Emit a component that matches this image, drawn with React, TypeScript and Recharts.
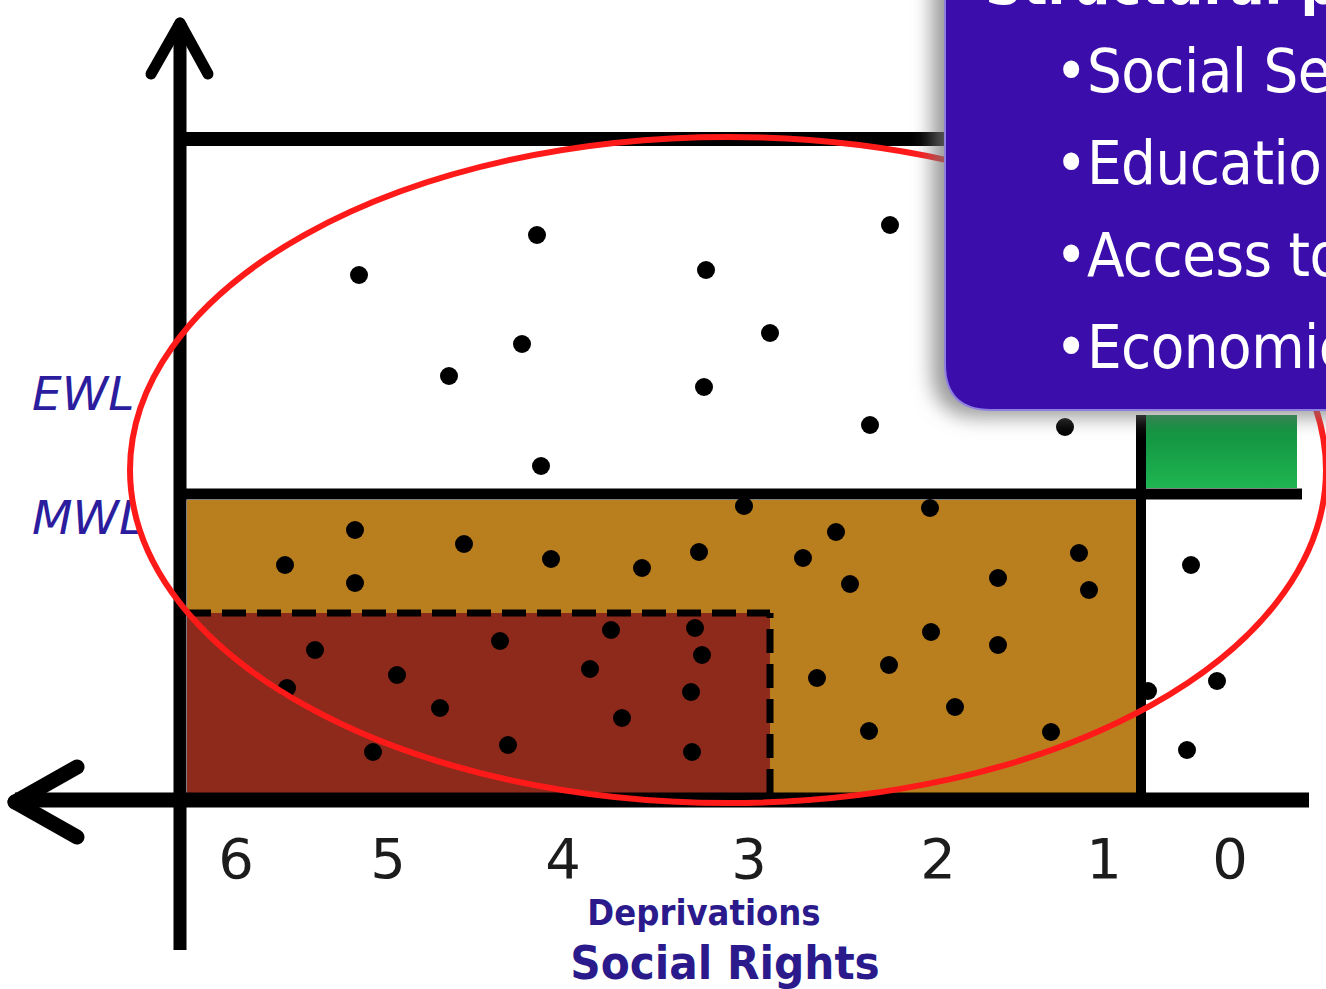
import { ReferenceArea, ReferenceLine, Scatter, ScatterChart, XAxis, YAxis } from "recharts";

// plot units: x = px from the vertical axis, y = px above the horizontal axis
const TICK_POS = [56, 208, 383, 569, 758, 924, 1050];
const TICK_LABELS = ["6", "5", "4", "3", "2", "1", "0"];
const LEVEL_POS = [407, 283];
const LEVEL_LABELS = ["EWL", "MWL"];
const MWL = 306;
const TOP = 661;
const DEPRIV_CUT = 961;
const SEVERE = { x: 590, y: 187 };
const BOX_LINES = ["•Social Security", "•Education", "•Access to health", "•Economic"];

const upperDots = [
  [179, 525], [357, 565], [526, 530], [710, 575], [342, 456], [590, 467],
  [269, 424], [524, 413], [690, 375], [361, 334], [885, 373],
];
const middleDots = [
  [175, 270], [105, 235], [175, 217], [284, 256], [371, 241], [462, 232],
  [519, 248], [564, 294], [623, 242], [656, 268], [670, 216], [750, 292],
  [818, 222], [899, 247], [909, 210], [637, 122], [709, 135], [751, 168],
  [818, 155], [775, 93], [689, 69], [871, 68], [968, 109],
];
const severeDots = [
  [135, 150], [217, 125], [320, 159], [431, 170], [515, 172], [522, 145],
  [410, 131], [511, 108], [260, 92], [442, 82], [328, 55], [512, 48],
  [107, 112], [193, 48],
];
const rightDots = [[1011, 235], [1037, 119], [1007, 50]];

const toPts = (a: number[][]) => a.map(([x, y]) => ({ x, y }));
const allDots = toPts([...upperDots, ...middleDots, ...severeDots, ...rightDots]);

const navy = "#2a1a8c";

function XTick({ x, payload }: any) {
  const i = TICK_POS.indexOf(payload.value);
  return (
    <text x={x} y={800 + 78} textAnchor="middle" fontSize={56} fill="#1c1c1c" fontFamily="'DejaVu Sans', sans-serif">
      {TICK_LABELS[i]}
    </text>
  );
}

function LevelLabel({ viewBox, text }: any) {
  return (
    <text x={32} y={viewBox.y + 17} fontSize={47} fontStyle="italic" fill="#2b1d9e" fontFamily="'DejaVu Sans', sans-serif">
      {text}
    </text>
  );
}

function AxisTitle() {
  return (
    <g fontFamily="'DejaVu Sans Condensed', 'DejaVu Sans', sans-serif" fontWeight="bold" fill={navy} textAnchor="middle">
      <text x={704} y={925} fontSize={36} style={{ fontStretch: "condensed" }}>Deprivations</text>
      <text x={725} y={979} fontSize={47} style={{ fontStretch: "condensed" }}>Social Rights</text>
    </g>
  );
}

function Ellipse(p: any) {
  return (
    <ellipse cx={p.x + p.width / 2} cy={p.y + p.height / 2} rx={p.width / 2} ry={p.height / 2}
      fill="none" stroke="#ff1a1a" strokeWidth={6} />
  );
}

function InfoBox(p: any) {
  const x = p.x, yb = p.y + p.height, r = 46;
  const d = `M ${x} -40 L ${x} ${yb - r} Q ${x} ${yb} ${x + r} ${yb} L ${x + p.width + 80} ${yb} L ${x + p.width + 80} -40 Z`;
  return (
    <g>
      <path d={d} fill="#3a0caa" stroke="#8f80e0" strokeWidth={2} filter="url(#boxShadow)" />
      <g fill="#ffffff" fontFamily="'DejaVu Sans Condensed', 'DejaVu Sans', sans-serif" style={{ fontStretch: "condensed" }}>
        <text x={x + 40} y={4} fontSize={58} fontWeight="bold">Structural problems</text>
        {BOX_LINES.map((t, i) => (
          <text key={t} x={x + 110} y={92 + i * 92} fontSize={61} letterSpacing={-0.5}>{t}</text>
        ))}
      </g>
    </g>
  );
}

export default function App() {
  return (
    <div style={{ width: 1326, height: 989, background: "#fff" }}>
      <style>{"body{margin:0}"}</style>
      <ScatterChart width={1326} height={989} margin={{ top: 0, right: 0, bottom: 0, left: 0 }}>
        <defs>
          <filter id="boxShadow" x="-20%" y="-20%" width="140%" height="140%">
            <feDropShadow dx={-12} dy={6} stdDeviation={10} floodColor="#777" floodOpacity={0.75} />
          </filter>
          <linearGradient id="greenGrad" x1="0" y1="0" x2="0" y2="1">
            <stop offset="0%" stopColor="#0f8a3c" />
            <stop offset="100%" stopColor="#1fb552" />
          </linearGradient>
        </defs>
        <XAxis type="number" dataKey="x" domain={[-180, 1146]} ticks={TICK_POS} interval={0} height={189}
          axisLine={false} tickLine={false} tickSize={0} tick={<XTick />} label={<AxisTitle />} allowDataOverflow />
        <YAxis type="number" dataKey="y" domain={[0, 800]} hide allowDataOverflow />

        <ReferenceArea x1={7} x2={956} y1={7} y2={300} fill="#b97f1f" fillOpacity={1} stroke="none" />
        <ReferenceArea x1={7} x2={SEVERE.x} y1={7} y2={SEVERE.y} fill="#8e2a1c" fillOpacity={1} stroke="none" />
        <ReferenceArea x1={966} x2={1117} y1={312} y2={385} fill="url(#greenGrad)" fillOpacity={1} stroke="none" />

        <ReferenceLine segment={[{ x: 7, y: SEVERE.y }, { x: SEVERE.x, y: SEVERE.y }]} stroke="#000" strokeWidth={7} strokeDasharray="24 11" />
        <ReferenceLine segment={[{ x: SEVERE.x, y: 7 }, { x: SEVERE.x, y: SEVERE.y }]} stroke="#000" strokeWidth={7} strokeDasharray="24 11" />

        <ReferenceLine segment={[{ x: 0, y: MWL }, { x: 1122, y: MWL }]} stroke="#000" strokeWidth={11} />
        <ReferenceLine segment={[{ x: 0, y: TOP }, { x: 1129, y: TOP }]} stroke="#000" strokeWidth={14} />
        <ReferenceLine segment={[{ x: DEPRIV_CUT, y: 0 }, { x: DEPRIV_CUT, y: 385 }]} stroke="#000" strokeWidth={10} />
        <ReferenceLine segment={[{ x: 1122, y: -7 }, { x: 1122, y: TOP }]} stroke="#000" strokeWidth={14} />
        <ReferenceLine segment={[{ x: -165, y: 0 }, { x: 1129, y: 0 }]} stroke="#000" strokeWidth={15} ifOverflow="visible" />
        <ReferenceLine segment={[{ x: 0, y: -150 }, { x: 0, y: 777 }]} stroke="#000" strokeWidth={13} ifOverflow="visible" />
        <ReferenceLine segment={[{ x: 0, y: 777 }, { x: -29, y: 726 }]} stroke="#000" strokeWidth={11} strokeLinecap="round" />
        <ReferenceLine segment={[{ x: 0, y: 777 }, { x: 28, y: 726 }]} stroke="#000" strokeWidth={11} strokeLinecap="round" />
        <ReferenceLine segment={[{ x: -165, y: -2 }, { x: -103, y: 33 }]} stroke="#000" strokeWidth={15} strokeLinecap="round" ifOverflow="visible" />
        <ReferenceLine segment={[{ x: -165, y: -2 }, { x: -103, y: -37 }]} stroke="#000" strokeWidth={15} strokeLinecap="round" ifOverflow="visible" />

        {LEVEL_POS.map((v, i) => (
          <ReferenceLine key={LEVEL_LABELS[i]} segment={[{ x: -150, y: v }, { x: -149, y: v }]} stroke="none"
            ifOverflow="visible" label={<LevelLabel text={LEVEL_LABELS[i]} />} />
        ))}

        <Scatter data={allDots} isAnimationActive={false}
          shape={(p: any) => <circle cx={p.cx} cy={p.cy} r={9} fill="#000" />} />

        <ReferenceArea x1={-50} x2={1146} y1={-3} y2={663} shape={<Ellipse />} ifOverflow="visible" zIndex={700} />
        <ReferenceArea x1={765} x2={1146} y1={390} y2={800} shape={<InfoBox />} ifOverflow="visible" zIndex={800} />
      </ScatterChart>
    </div>
  );
}
